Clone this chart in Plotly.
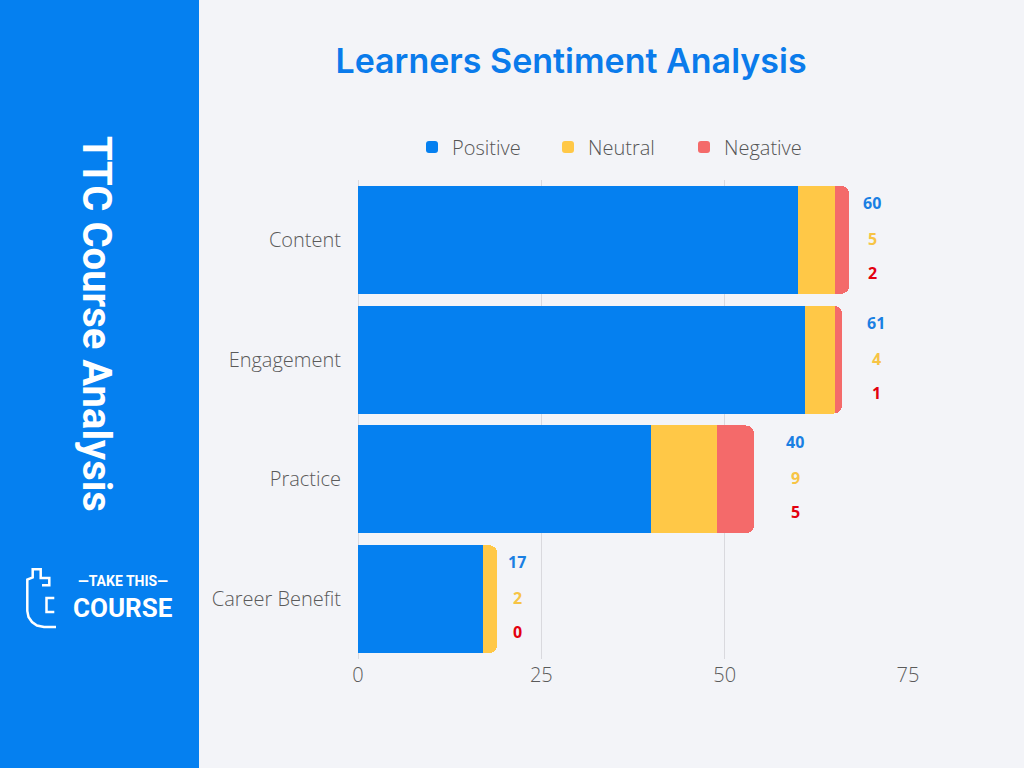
import plotly.graph_objects as go

categories = ["Content", "Engagement", "Practice", "Career Benefit"]
positive = [60, 61, 40, 17]
neutral = [5, 4, 9, 2]
negative = [2, 1, 5, 0]
series_names = ["Positive", "Neutral", "Negative"]
x_ticks = [0, 25, 50, 75]

bar_colors = ["#0580F0", "#FFC847", "#F46A6A"]
label_colors = ["#1A7FE3", "#F7C445", "#E3000F"]
label_xshift = [23, 34, 41, 20]
label_yshift = [37, 1, -33]

W, H = 1024, 768
ML, MR, MT, MB = 358, 116, 180, 109
PW, PH = W - ML - MR, H - MT - MB


def px(x):
    return (x - ML) / PW


def py(y):
    return (H - MB - y) / PH


fig = go.Figure()
for name, vals, col in zip(series_names, [positive, neutral, negative], bar_colors):
    fig.add_trace(go.Bar(
        y=categories, x=vals, name=name, orientation="h",
        marker=dict(color=col, line=dict(width=0)),
        hoverinfo="x+name",
    ))

annotations = []
totals = [p + n + g for p, n, g in zip(positive, neutral, negative)]
for i, cat in enumerate(categories):
    for vals, col, ys in zip([positive, neutral, negative], label_colors, label_yshift):
        annotations.append(dict(
            x=totals[i], y=cat, xref="x", yref="y", text=str(vals[i]),
            showarrow=False, xanchor="center", yanchor="middle",
            xshift=label_xshift[i], yshift=ys,
            font=dict(family="Open Sans", size=16, color=col, weight=700),
        ))

side_font = "Roboto"
# Vertical side title
annotations.append(dict(
    x=px(97), y=py(324), xref="paper", yref="paper", text="TTC Course Analysis",
    showarrow=False, textangle=90, xanchor="center", yanchor="middle",
    font=dict(family=side_font, size=40, color="white", weight=700),
))
# Logo text
annotations.append(dict(
    x=px(123), y=py(581), xref="paper", yref="paper", text="—TAKE THIS—",
    showarrow=False, xanchor="center", yanchor="middle",
    font=dict(family=side_font, size=14, color="white", weight=700),
))
annotations.append(dict(
    x=px(123), y=py(608), xref="paper", yref="paper", text="COURSE",
    showarrow=False, xanchor="center", yanchor="middle",
    font=dict(family=side_font, size=26, color="white", weight=700),
))

icon_outer = [(42, 585.3), (49.3, 585.3), (49.3, 578), (40.7, 578), (40.7, 569.3), (32.7, 569.3),
              (32.7, 577.5), (27.3, 579.5), (27.3, 611), (28.5, 617), (32, 622), (37, 625.5),
              (44, 627), (56, 627)]
icon_inner = [(54.3, 598), (46.5, 598), (46.5, 612), (54.3, 612)]


def path_of(pts):
    return "M " + " L ".join(f"{px(a):.5f},{py(b):.5f}" for a, b in pts)


shapes = [
    dict(type="rect", xref="paper", yref="paper", x0=px(0), x1=px(199), y0=py(H), y1=py(0),
         fillcolor="#0580F0", line=dict(width=0), layer="below"),
]
for pts in [icon_outer, icon_inner]:
    shapes.append(dict(type="path", xref="paper", yref="paper", path=path_of(pts),
                       line=dict(color="white", width=2.5)))

fig.update_layout(
    width=W, height=H,
    margin=dict(l=ML, r=MR, t=MT, b=MB, pad=0),
    barmode="stack", bargap=0.1, barcornerradius=8,
    paper_bgcolor="#F3F4F8", plot_bgcolor="#F3F4F8",
    title=dict(text="Learners Sentiment Analysis", x=571 / W, xref="container",
               y=1 - 61 / H, yref="container", xanchor="center", yanchor="middle",
               font=dict(family="Inter", size=34, color="#0A7BEB", weight=600)),
    legend=dict(orientation="h", x=px(412), y=py(147), xanchor="left", yanchor="middle",
                xref="paper", yref="paper", entrywidth=91, entrywidthmode="pixels",
                font=dict(family="Open Sans", size=20, color="#555555", weight=300),
                bgcolor="rgba(0,0,0,0)", traceorder="normal"),
    xaxis=dict(range=[0, 75], tickvals=x_ticks, showgrid=True, gridcolor="#D9D9DE", gridwidth=1,
               zeroline=True, zerolinecolor="#D9D9DE", zerolinewidth=1, showline=False,
               tickfont=dict(family="Open Sans", size=20, color="#5A5A5A", weight=300),
               ticklabelstandoff=2, fixedrange=True),
    yaxis=dict(categoryorder="array", categoryarray=categories[::-1], autorange=False, range=[-0.5, 3.5],
               showgrid=False, zeroline=False, showline=False,
               tickfont=dict(family="Open Sans", size=20, color="#5A5A5A", weight=300),
               ticklabelstandoff=16, fixedrange=True),
    annotations=annotations, shapes=shapes,
    showlegend=True, hovermode="closest",
)

fig.write_html("out.html", config={"displayModeBar": False})
